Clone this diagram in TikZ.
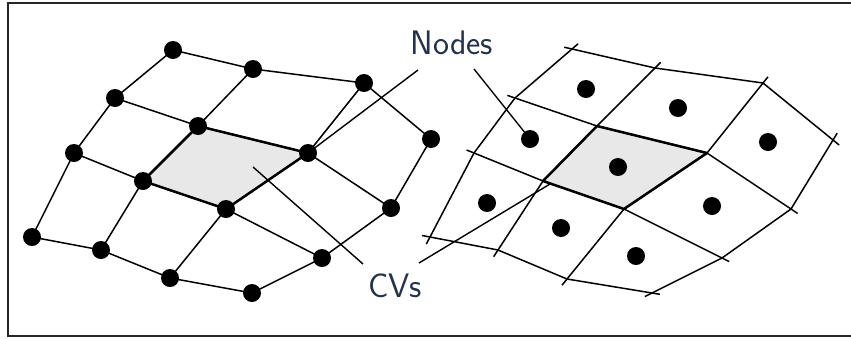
\documentclass[tikz,border=0pt]{standalone}
\usepackage{tikz}
\definecolor{labelblue}{RGB}{36,50,76}
\definecolor{cvgray}{RGB}{232,232,232}
\tikzset{
  gridline/.style={line width=1.5pt, line join=round},
  cvedge/.style={line width=2.5pt, line join=round},
  leader/.style={line width=1.4pt},
  dot/.style={circle, fill=black, inner sep=0pt, minimum size=18pt},
  facet/.style={gridline, shorten <=-8pt, shorten >=-8pt},
  lbl/.style={text=labelblue, font=\fontsize{34}{40}\selectfont\sffamily, inner sep=0pt}
}
\begin{document}
\begin{tikzpicture}[x=1pt, y=-1pt]
\useasboundingbox (0,0) rectangle (851,338);
% frame (open on the right)
\draw[line width=2pt, black!85] (860,3) -- (8,3) -- (8,336) -- (860,336);

% ---- vertex-centred mesh (left) ----
\coordinate (l00) at (32,237);  \coordinate (l10) at (101,250);
\coordinate (l20) at (170,278); \coordinate (l30) at (252,293);
\coordinate (l01) at (74,153);  \coordinate (l11) at (143,181);
\coordinate (l21) at (226,209); \coordinate (l31) at (322,258);
\coordinate (l02) at (115,98);  \coordinate (l12) at (198,126);
\coordinate (l22) at (308,153); \coordinate (l32) at (391,208);
\coordinate (l03) at (173,50);  \coordinate (l13) at (253,69);
\coordinate (l23) at (364,83);  \coordinate (l33) at (431,139);

\fill[cvgray] (l11) -- (l12) -- (l22) -- (l21) -- cycle;
\foreach \j in {0,1,2,3} {
  \draw[gridline] (l0\j) -- (l1\j) -- (l2\j) -- (l3\j);
  \draw[gridline] (l\j0) -- (l\j1) -- (l\j2) -- (l\j3);
}
\draw[cvedge] (l11) -- (l12) -- (l22) -- (l21) -- cycle;

% ---- cell-centred mesh (right) ----
\coordinate (r00) at (430,237); \coordinate (r10) at (498,250);
\coordinate (r20) at (567,279); \coordinate (r30) at (652,293);
\coordinate (r01) at (474,153); \coordinate (r11) at (543,181);
\coordinate (r21) at (624,209); \coordinate (r31) at (722,258);
\coordinate (r02) at (515,98);  \coordinate (r12) at (597,126);
\coordinate (r22) at (707,153); \coordinate (r32) at (791,209);
\coordinate (r03) at (572,49);  \coordinate (r13) at (655,68);
\coordinate (r23) at (763,83);  \coordinate (r33) at (833,140);

\fill[cvgray] (r11) -- (r12) -- (r22) -- (r21) -- cycle;
\foreach \j in {0,1,2,3} {
  \draw[facet] (r0\j) -- (r1\j) -- (r2\j) -- (r3\j);
  \draw[facet] (r\j0) -- (r\j1) -- (r\j2) -- (r\j3);
}
\draw[cvedge] (r11) -- (r12) -- (r22) -- (r21) -- cycle;

% labels and leader lines
\node[lbl] (nodes) at (452,43) {Nodes};
\node[lbl] (cvs) at (395,286) {CVs};
\coordinate (nl) at (418,70);
\coordinate (nr) at (474,69);
\coordinate (cl) at (363,264);
\coordinate (cr) at (419,263);
\coordinate (cvl) at (253,167);
\coordinate (cvr) at (550,184);

% nodes of the left mesh
\foreach \i in {0,1,2,3} \foreach \j in {0,1,2,3} {
  \node[dot] (n\i\j) at (l\i\j) {};
}
% nodes of the right mesh (cell centres)
\node[dot] (c00) at (487,203) {};
\node[dot] (c10) at (561,228) {};
\node[dot] (c20) at (636,256) {};
\node[dot] (c01) at (530,139) {};
\node[dot] (c11) at (618,167) {};
\node[dot] (c21) at (712,206) {};
\node[dot] (c02) at (586,89) {};
\node[dot] (c12) at (678,108) {};
\node[dot] (c22) at (768,142) {};

\draw[leader] (nl) -- (n22.center);
\draw[leader] (nr) -- (c01.center);
\draw[leader] (cl) -- (cvl);
\draw[leader] (cr) -- (cvr);
\end{tikzpicture}
\end{document}
